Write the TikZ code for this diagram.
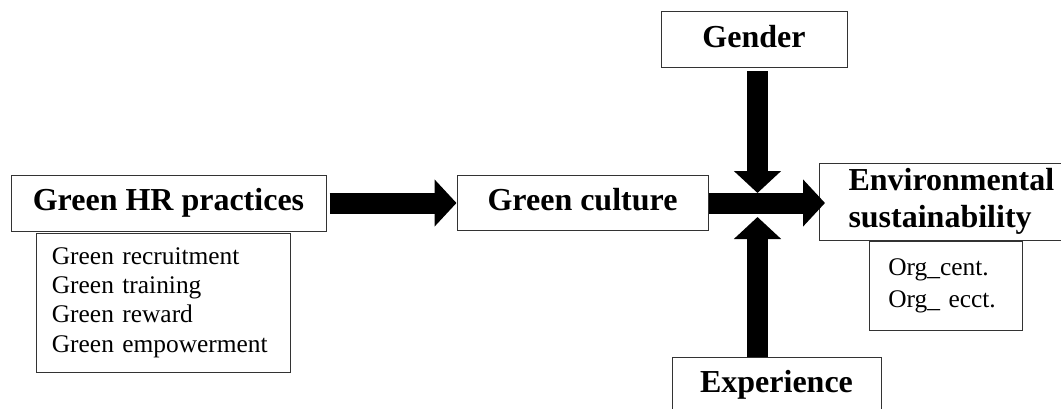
\documentclass[tikz,border=0pt]{standalone}
\usepackage{fontspec}
\setmainfont{Liberation Serif}
\usetikzlibrary{arrows.meta, positioning}

\begin{document}
\begin{tikzpicture}[x=1pt, y=1pt,
  box/.style={draw=black!80, line width=1pt, fill=white, inner sep=0pt,
    font=\fontsize{32}{37}\selectfont\bfseries},
  onebox/.style={box, text height=22pt, text depth=7pt},
  listbox/.style={draw=black!80, line width=0.8pt, align=left, inner ysep=0pt},
  bigarrow/.style={line width=21pt, -{Triangle[length=22pt, width=46pt]}}]
  \useasboundingbox (0,0) rectangle (1061,408);
  \clip (0,0) rectangle (1061,408);
  \node[onebox, minimum width=315pt, minimum height=56pt] (ghr) at (168.5,205) {Green HR practices};
  \node[listbox, inner xsep=16pt, text width=222pt, minimum height=139pt,
    font=\fontsize{25.4}{29.3}\selectfont] (ghrlist) [below right=1pt and 25pt of ghr.south west]
    {Green recruitment\\Green training\\Green reward\\Green empowerment};
  \node[onebox, minimum width=251pt, minimum height=55pt] (gc) at (582.5,205) {Green culture};
  \node[onebox, minimum width=186pt, minimum height=56pt] (gender) at (754,368) {Gender};
  \node[onebox, minimum width=209pt, minimum height=56pt] (exp) at (776.5,23) {Experience};
  \node[box, align=left, anchor=west, inner xsep=29pt, text width=240pt, minimum height=77pt]
    (env) at (819,206.5) {Environmental\\sustainability};
  \node[listbox, inner xsep=19pt, text width=115pt, minimum height=89pt,
    font=\fontsize{25.4}{32}\selectfont] (envlist) [below right=0pt and 50pt of env.south west]
    {Org\_cent.\\Org\_ ecct.};
  % meeting point of the moderators
  \coordinate (jtop) at (757.5,215);
  \coordinate (jbot) at (757.5,191);
  \draw[bigarrow, shorten <=3pt] (ghr) -- (gc);
  \draw[bigarrow, shorten >=-6pt] (gc.east) -- (gc.east -| env.west);
  \draw[bigarrow, shorten <=3pt] (gender.south -| jtop) -- (jtop);
  \draw[bigarrow] (exp.north -| jbot) -- (jbot);
\end{tikzpicture}
\end{document}
